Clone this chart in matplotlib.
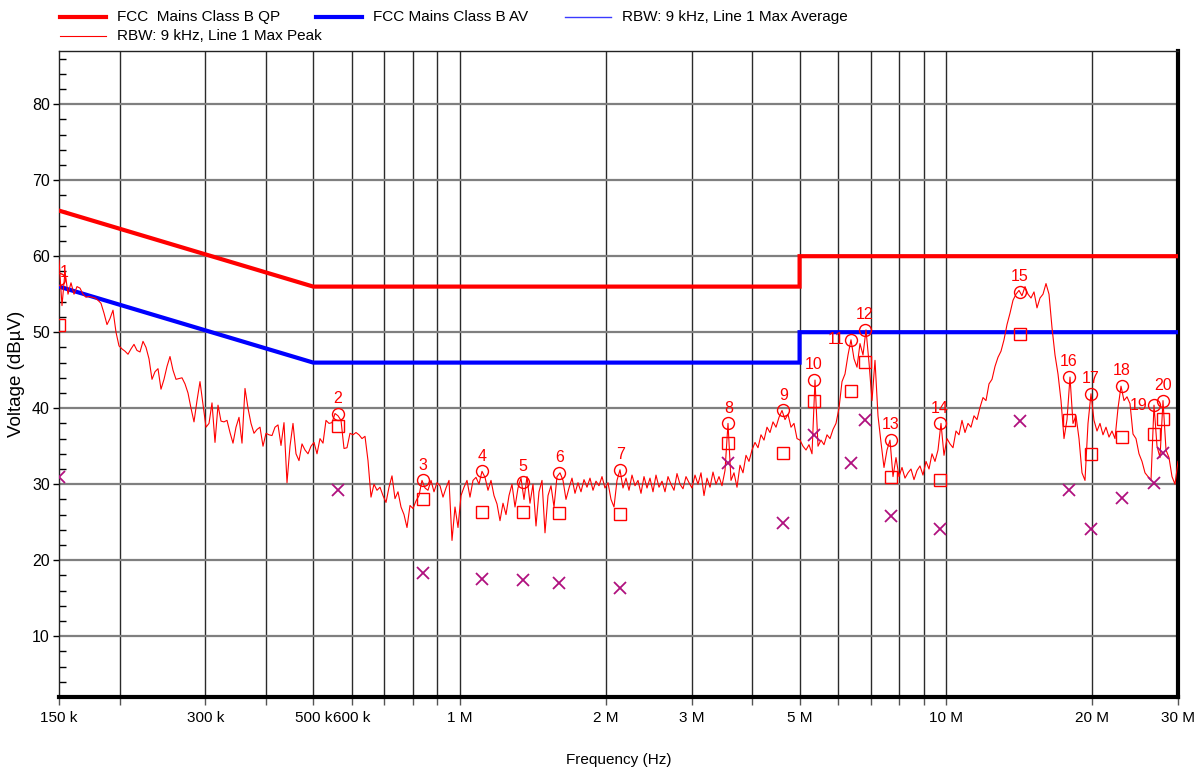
import numpy as np
import matplotlib
matplotlib.use("Agg")
import matplotlib.pyplot as plt
from matplotlib.lines import Line2D
from matplotlib.ticker import FixedLocator, FixedFormatter, NullFormatter

plt.rcParams['font.family'] = ['Liberation Sans', 'DejaVu Sans']

# FCC Part 15 Class B conducted limits (MHz, dBµV)
qp_limit_f = [0.15, 0.5, 5.0, 5.0, 30.0]
qp_limit_db = [66, 56, 56, 60, 60]
av_limit_f = [0.15, 0.5, 5.0, 5.0, 30.0]
av_limit_db = [56, 46, 46, 50, 50]

# Line 1 max-peak sweep (dBµV), log-spaced sweep points 150 kHz .. 30 MHz
peak_db = [
    59.5, 53.5, 58.0, 55.0, 56.5, 55.0, 56.0, 55.8, 55.0, 54.6,
    54.7, 54.6, 54.5, 54.2, 53.8, 52.5, 51.0, 51.8, 52.9, 50.0,
    48.2, 47.8, 47.5, 47.1, 47.8, 48.4, 47.6, 47.4, 48.8, 48.0,
    46.5, 43.8, 44.8, 45.2, 42.5, 43.8, 45.5, 46.8, 45.0, 43.8,
    43.9, 44.0, 43.2, 42.0, 40.0, 38.2, 41.0, 43.5, 40.5, 37.5,
    38.0, 40.7, 35.5, 40.4, 38.3, 38.2, 38.4, 36.8, 35.4, 37.5,
    38.8, 35.4, 42.6, 40.0, 38.0, 36.7, 37.2, 37.5, 35.0, 36.7,
    36.5, 36.4, 37.5, 37.8, 35.1, 38.1, 30.2, 35.0, 38.0, 34.0,
    33.1, 35.3, 34.5, 34.0, 35.0, 35.5, 34.0, 36.0, 35.4, 38.4,
    38.0, 38.1, 39.3, 39.0, 38.4, 34.7, 34.8, 36.7, 36.5, 36.8,
    36.5, 36.0, 36.3, 33.1, 28.3, 30.0, 29.2, 29.6, 28.5, 27.6,
    29.6, 31.1, 28.1, 29.0, 27.0, 26.0, 24.3, 27.2, 26.8, 27.8,
    28.5, 30.5, 29.5, 29.2, 30.5, 29.0, 30.2, 29.8, 28.3, 29.5,
    30.5, 22.6, 27.0, 24.3, 28.5, 29.6, 30.5, 28.3, 30.5, 30.9,
    30.0, 31.7, 30.9, 29.2, 30.5, 28.5, 27.4, 25.2, 27.5, 26.0,
    28.5, 30.0, 27.0, 29.5, 30.8, 28.0, 31.0, 27.5, 30.0, 24.5,
    29.0, 30.5, 23.6, 28.5, 29.8, 27.0, 31.0, 31.5, 30.5, 28.0,
    29.5, 30.8, 28.8, 30.2, 29.0, 30.6, 29.6, 30.8, 29.2, 30.4,
    29.8, 31.0, 29.5, 30.2, 28.0, 27.0, 30.5, 31.9, 29.5, 30.8,
    29.2, 31.2, 29.8, 30.5, 28.8, 31.0, 29.5, 30.8, 29.0, 31.2,
    29.6, 30.4, 29.0, 31.0, 30.0, 29.2, 31.4, 30.0, 29.4, 31.0,
    30.2, 29.5, 31.2, 30.0, 31.5, 28.5, 30.8, 29.6, 31.6, 30.0,
    31.0, 29.8, 31.8, 38.0, 30.5, 31.5, 29.6, 32.5, 31.5, 33.8,
    33.0, 34.5, 35.5, 34.8, 36.5, 35.8, 37.5, 36.8, 38.2, 37.5,
    38.8, 39.7, 38.5, 39.2, 37.5, 38.0, 36.0, 35.8, 35.0, 34.5,
    35.2, 34.0, 43.7, 35.0, 35.8, 35.2, 36.5, 36.0, 37.2, 38.0,
    40.0, 43.5, 44.5, 47.0, 49.0, 46.5, 45.4, 48.5, 47.0, 50.3,
    46.0, 41.0, 46.3, 39.0, 35.5, 32.2, 34.5, 35.8, 31.0, 33.5,
    31.0, 32.2, 30.8, 31.5, 32.0, 30.6, 31.8, 32.4, 31.2, 33.0,
    32.0, 34.0, 33.0, 34.5, 38.0, 33.8, 36.0, 35.3, 34.8, 37.0,
    36.5, 38.4, 36.8, 38.0, 37.5, 39.0, 38.5, 40.1, 41.4, 41.0,
    43.2, 43.8, 45.5, 46.7, 47.5, 49.0, 51.0, 52.5, 54.2, 55.0,
    55.5, 54.8, 56.0, 55.0, 54.5, 55.3, 53.2, 54.5, 55.0, 56.4,
    55.0, 50.6, 47.0, 44.5, 41.0, 36.0, 38.5, 44.1, 38.0, 39.0,
    36.0, 31.5, 30.5, 38.0, 41.9, 38.4, 37.0, 38.0, 36.5, 37.5,
    36.2, 37.0, 36.0, 40.0, 42.9, 41.0, 41.5, 40.6, 36.6, 36.0,
    34.0, 33.0, 31.5, 31.0, 30.5, 40.4, 35.0, 33.5, 41.0, 34.5,
    33.5, 31.0, 30.0, 33.0,
]
peak_f = np.geomspace(0.15, 30.0, len(peak_db))

# Final measurement markers: peak (circle), quasi-peak (square), average (cross)
marker_ids = [str(i) for i in range(1, 21)]
marker_f = [0.150, 0.562, 0.841, 1.113, 1.348, 1.604, 2.14, 3.57, 4.63, 5.35,
            6.37, 6.81, 7.70, 9.72, 14.2, 17.9, 19.85, 23.0, 26.8, 27.9]
marker_pk = [57.0, 39.3, 30.5, 31.7, 30.3, 31.5, 31.9, 38.0, 39.7, 43.7,
             49.0, 50.3, 35.8, 38.0, 55.3, 44.1, 41.9, 42.9, 40.4, 41.0]
marker_qp = [50.9, 37.6, 28.0, 26.3, 26.3, 26.2, 26.1, 35.4, 34.1, 40.9,
             42.2, 46.1, 31.0, 30.6, 49.8, 38.4, 34.0, 36.2, 36.6, 38.6]
marker_av = [30.9, 29.2, 18.3, 17.5, 17.4, 17.0, 16.4, 32.8, 24.9, 36.5,
             32.8, 38.4, 25.8, 24.1, 38.3, 29.3, 24.1, 28.2, 30.1, 34.1]
left_labels = {"11", "19"}

# Axis ticks
grid_f = [0.2, 0.3, 0.4, 0.5, 0.6, 0.7, 0.8, 0.9, 1, 2, 3, 4, 5, 6, 7, 8, 9, 10, 20]
xtick_f = [0.15, 0.3, 0.5, 0.6, 1, 2, 3, 5, 10, 20, 30]
xtick_labels = ["150 k", "300 k", "500 k", "600 k", "1 M", "2 M", "3 M", "5 M",
                "10 M", "20 M", "30 M"]
ytick_major = [10, 20, 30, 40, 50, 60, 70, 80]
ytick_minor = [v for v in range(4, 87, 2) if v % 10 != 0]

# Legend entries: label, colour, line width
legend_labels = ["FCC  Mains Class B QP", "FCC Mains Class B AV",
                 "RBW: 9 kHz, Line 1 Max Average", "RBW: 9 kHz, Line 1 Max Peak"]

RED = "#ff0000"
BLUE = "#0000ff"
LIGHTBLUE = "#3a3aff"
XCOL = "#b0107e"

W, H = 1202, 772
fig = plt.figure(figsize=(W / 100, H / 100), dpi=100)
ax = fig.add_axes([59 / W, 1 - 697 / H, (1178 - 59) / W, (697 - 51) / H])
ax.set_xscale("log")
ax.set_xlim(0.15, 30)
ax.set_ylim(2, 87)

# grid
for f in grid_f:
    ax.axvline(f, color="#2a2a2a", lw=1.0, zorder=1)
for v in ytick_major:
    ax.axhline(v, color="#7f7f7f", lw=1.6, zorder=1)

# limits
ax.plot(qp_limit_f, qp_limit_db, color=RED, lw=3.0, zorder=3, solid_joinstyle="miter")
ax.plot(av_limit_f, av_limit_db, color=BLUE, lw=3.0, zorder=3, solid_joinstyle="miter")

# trace
ax.plot(peak_f, peak_db, color=RED, lw=0.8, zorder=4)

# markers
ax.plot(marker_f, marker_pk, "o", mfc="none", mec=RED, ms=8.6, mew=1.0, zorder=5, ls="none")
ax.plot(marker_f, marker_qp, "s", mfc="none", mec=RED, ms=8.6, mew=1.0, zorder=5, ls="none")
ax.plot(marker_f, marker_av, "x", color=XCOL, ms=8.6, mew=1.3, zorder=5, ls="none")

for lab, f, v in zip(marker_ids, marker_f, marker_pk):
    if lab in left_labels:
        ax.annotate(lab, (f, v), xytext=(-4.5, 0), textcoords="offset points",
                    ha="right", va="center", color=RED, fontsize=11.5, zorder=6)
    elif lab == "1":
        ax.annotate(lab, (f, v), xytext=(4, 5), textcoords="offset points",
                    ha="center", va="center", color=RED, fontsize=11.5, zorder=6)
    else:
        ax.annotate(lab, (f, v), xytext=(0, 11), textcoords="offset points",
                    ha="center", va="center", color=RED, fontsize=11.5, zorder=6)

# ticks
ax.xaxis.set_major_locator(FixedLocator(xtick_f))
ax.xaxis.set_major_formatter(FixedFormatter(xtick_labels))
ax.xaxis.set_minor_locator(FixedLocator([f for f in grid_f if f not in xtick_f]))
ax.xaxis.set_minor_formatter(NullFormatter())
ax.tick_params(axis="x", which="both", direction="out", length=6, width=1,
               color="#555555", labelsize=11, pad=4)
ax.yaxis.set_major_locator(FixedLocator(ytick_major))
ax.yaxis.set_minor_locator(FixedLocator(ytick_minor))
ax.tick_params(axis="y", which="major", direction="out", length=4.5, width=1,
               labelsize=11.5, pad=2)
ax.tick_params(axis="y", which="minor", direction="in", length=5, width=1)

for side in ("left", "top"):
    ax.spines[side].set_linewidth(1.0)
    ax.spines[side].set_color("#222222")
for side in ("right", "bottom"):
    ax.spines[side].set_linewidth(3.0)
    ax.spines[side].set_color("black")

ax.set_xlabel("Frequency (Hz)", fontsize=11, labelpad=20)
ax.set_ylabel("Voltage (dBµV)", fontsize=13.5, labelpad=5)

# legend, laid out left to right in two rows
legend_style = [(RED, 3.0), (BLUE, 3.0), (LIGHTBLUE, 1.0), (RED, 0.8)]
legend_pos = [(60, 17), (316, 17), (565, 17), (60, 36)]
for lab, (col, lw), (x0, y0) in zip(legend_labels, legend_style, legend_pos):
    fig.add_artist(Line2D([x0 / W, (x0 + 46) / W], [1 - y0 / H, 1 - y0 / H],
                          transform=fig.transFigure, color=col, lw=lw))
    fig.text((x0 + 57) / W, 1 - y0 / H, lab, fontsize=11, va="center", ha="left")

fig.savefig("out.png", dpi=100)
